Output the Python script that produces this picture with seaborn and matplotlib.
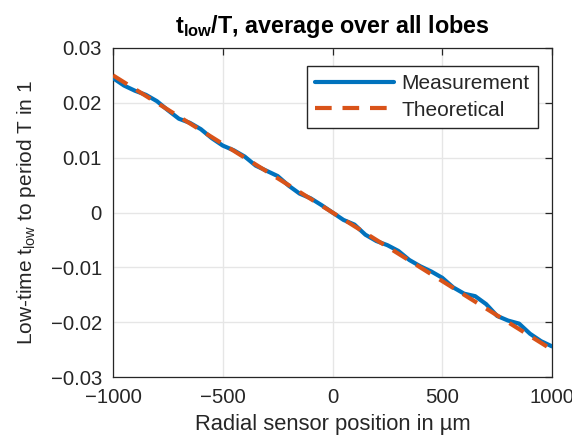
import numpy as np
import pandas as pd
import matplotlib
matplotlib.use("Agg")
import matplotlib.pyplot as plt
import seaborn as sns
from matplotlib.ticker import FuncFormatter

# ---- data ----
position_um = [-1000, -950, -900, -850, -800, -750, -700, -650, -600, -550,
               -500, -450, -400, -350, -300, -250, -200, -150, -100, -50,
               0, 50, 100, 150, 200, 250, 300, 350, 400, 450,
               500, 550, 600, 650, 700, 750, 800, 850, 900, 950, 1000]
measurement = [0.0245, 0.02315, 0.0222, 0.02145, 0.0203, 0.01865, 0.0171, 0.01635, 0.0152, 0.01355,
               0.0122, 0.01135, 0.0102, 0.00855, 0.0076, 0.00665, 0.0049, 0.00345, 0.0026, 0.00135,
               0.0, -0.00135, -0.0022, -0.00405, -0.0052, -0.00595, -0.0070, -0.00865, -0.0098, -0.01075,
               -0.0119, -0.01365, -0.0148, -0.01525, -0.0167, -0.01885, -0.0197, -0.02025, -0.0221, -0.02345,
               -0.0244]
theory_pos = [-1000, 1000]
theory_val = [0.025, -0.025]
x_ticks = [-1000, -500, 0, 500, 1000]
y_ticks = [-0.03, -0.02, -0.01, 0, 0.01, 0.02, 0.03]

sns.set_style("white")
plt.rcParams['font.family'] = ['Liberation Sans', 'DejaVu Sans']
plt.rcParams['mathtext.fontset'] = 'custom'
plt.rcParams['mathtext.rm'] = 'Liberation Sans'
plt.rcParams['mathtext.it'] = 'Liberation Sans:italic'
plt.rcParams['mathtext.bf'] = 'Liberation Sans:bold'

fig = plt.figure(figsize=(5.72, 4.40), dpi=100)
ax = fig.add_axes([0.1976, 0.143, 0.7674, 0.748])

df_m = pd.DataFrame({"x": position_um, "y": measurement})
df_t = pd.DataFrame({"x": theory_pos, "y": theory_val})

sns.lineplot(data=df_m, x="x", y="y", ax=ax, color="#0072BD", lw=3.0,
             label="Measurement", zorder=3)
sns.lineplot(data=df_t, x="x", y="y", ax=ax, color="#D95319", lw=3.0,
             label="Theoretical", zorder=4)
ax.lines[1].set_dashes([4.0, 2.6])

ax.set_xlim(-1000, 1000)
ax.set_ylim(-0.03, 0.03)
ax.set_xticks(x_ticks)
ax.set_yticks(y_ticks)
ax.yaxis.set_major_formatter(FuncFormatter(
    lambda v, p: "0" if abs(v) < 1e-12 else f"{v:.2f}".replace("-", "\u2212")))
ax.xaxis.set_major_formatter(FuncFormatter(
    lambda v, p: f"{int(round(v))}".replace("-", "\u2212")))

ax.grid(True, color="#e6e6e6", lw=1.0)
ax.set_axisbelow(True)
for s in ax.spines.values():
    s.set_color("#262626")
    s.set_linewidth(0.9)
ax.tick_params(direction="in", length=5, width=0.9, colors="#262626",
               labelsize=14.6, labelcolor="#262626", top=True, right=True, pad=8)

ax.set_xlabel("Radial sensor position in µm", fontsize=15.8, color="#262626", labelpad=5)
ax.set_ylabel(r"Low-time t$_{\mathrm{low}}$ to period T in 1", fontsize=15,
              color="#262626", labelpad=9)
ax.set_title(r"t$_{\mathbf{low}}$/T, average over all lobes", fontsize=16.8,
             fontweight="bold", color="black", pad=11)

leg = ax.legend(loc="upper right", fontsize=15, frameon=True, fancybox=False,
                edgecolor="#262626", framealpha=1, handlelength=3.8,
                borderpad=0.4, labelspacing=0.35, handletextpad=0.35,
                borderaxespad=0, bbox_to_anchor=(0.968, 0.945))
leg.get_frame().set_linewidth(1.0)

fig.savefig("out.png", dpi=100)
